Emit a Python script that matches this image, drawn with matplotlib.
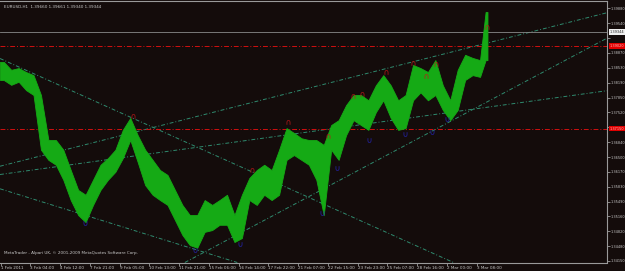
import matplotlib
matplotlib.use("Agg")
import matplotlib.pyplot as plt
import matplotlib.transforms as mtransforms

# ---------------- data ----------------
# price columns: each column = 8 hourly bars (bar index of first bar), high / low
col_start = list(range(0, 520, 8)) + [520]
col_width = [8] * 65 + [4]
col_high = [1.3866, 1.3848, 1.3852, 1.3843, 1.3836, 1.3791, 1.3689, 1.3689, 1.3667, 1.3621,
            1.3576, 1.3565, 1.3599, 1.3633, 1.3648, 1.3667, 1.3712, 1.3739, 1.3700, 1.3667,
            1.3644, 1.3621, 1.3610, 1.3576, 1.3542, 1.3519, 1.3519, 1.3553, 1.3542, 1.3553,
            1.3565, 1.3519, 1.3565, 1.3603, 1.3621, 1.3633, 1.3621, 1.3667, 1.3716, 1.3705,
            1.3693, 1.3689, 1.3689, 1.3678, 1.3723, 1.3734, 1.3768, 1.3791, 1.3791, 1.3779,
            1.3813, 1.3836, 1.3813, 1.3779, 1.3791, 1.3859, 1.3852, 1.3843, 1.3870, 1.3813,
            1.3779, 1.3848, 1.3882, 1.3875, 1.3870, 1.3979]
col_low = [1.3825, 1.3814, 1.3821, 1.3802, 1.3791, 1.3667, 1.3644, 1.3633, 1.3599, 1.3553,
           1.3519, 1.3503, 1.3542, 1.3576, 1.3599, 1.3617, 1.3648, 1.3689, 1.3639, 1.3587,
           1.3565, 1.3553, 1.3542, 1.3508, 1.3474, 1.3451, 1.3445, 1.3481, 1.3485, 1.3497,
           1.3497, 1.3458, 1.3467, 1.3553, 1.3542, 1.3565, 1.3553, 1.3565, 1.3644, 1.3655,
           1.3644, 1.3633, 1.3599, 1.3519, 1.3667, 1.3644, 1.3700, 1.3734, 1.3723, 1.3712,
           1.3752, 1.3779, 1.3739, 1.3712, 1.3716, 1.3779, 1.3797, 1.3779, 1.3791, 1.3757,
           1.3734, 1.3757, 1.3825, 1.3836, 1.3832, 1.3870]

# fractals (bar index, price)
up_fractal_bar = [142.5, 270.1, 309.5, 352.5, 379.4, 388.4, 414.5, 443.9, 457.5, 468.3, 523.1]
up_fractal_price = [1.3743, 1.3620, 1.3730, 1.3697, 1.3788, 1.3793, 1.3842, 1.3864, 1.3833, 1.3861, 1.3945]
dn_fractal_bar = [90.9, 209.1, 257.5, 345.7, 361.7, 396.3, 434.9, 463.4, 480.1]
dn_fractal_price = [1.3502, 1.3439, 1.3454, 1.3523, 1.3626, 1.3690, 1.3703, 1.3708, 1.3737]

# trend lines: (bar1, price1, bar2, price2)
trend_lines = [
    (268.3, 1.37729, 451.1, 1.38703),
    (268.3, 1.36891, 652.2, 1.38008),
    (365.1, 1.35985, 650.0, 1.39175),
    (139.2, 1.37412, 440.3, 1.34558),
    (131.7, 1.34920, 211.3, 1.34399),
]

red_levels = [1.39020, 1.37150]
red_level_labels = ["1.39020", "1.37150"]
bid_price = 1.39344
bid_label = "1.39344"

y_ticks = [1.34150, 1.34480, 1.34820, 1.35160, 1.35490, 1.35830, 1.36170, 1.36500, 1.36840,
           1.37180, 1.37520, 1.37850, 1.38190, 1.38530, 1.38870, 1.39210, 1.39540, 1.39880]
y_hidden = [1.37180, 1.39210]  # covered by the red / white price boxes
x_tick_bars = [0, 32, 64, 96, 128, 160, 192, 224, 256, 288, 320, 352, 384, 416, 448, 480, 512]
x_tick_labels = ["1 Feb 2011", "3 Feb 04:00", "4 Feb 12:00", "7 Feb 21:00", "9 Feb 05:00",
                 "10 Feb 13:00", "11 Feb 21:00", "15 Feb 06:00", "16 Feb 14:00", "17 Feb 22:00",
                 "21 Feb 07:00", "22 Feb 15:00", "23 Feb 23:00", "25 Feb 07:00", "28 Feb 16:00",
                 "2 Mar 00:00", "3 Mar 08:00"]

title_text = "EURUSD,H1  1.39660 1.39661 1.39340 1.39344"
footer_text = "MetaTrader - Alpari UK, \u00a9 2001-2009 MetaQuotes Software Corp."

# ---------------- style ----------------
BG = "#140c0b"
AX_GRAY = "#9a9a9a"
TXT = "#c8c8c8"
BAR_GREEN = "#15aa15"
LINE_TEAL = "#2f8a6e"
FS = 3.0
FS_Y = 2.5

W, H = 625, 271
fig = plt.figure(figsize=(W / 100, H / 100), dpi=100, facecolor=BG)
ax = fig.add_axes([0.0, (271 - 262.5) / 271, 607 / 625, (262.5 - 1) / 271])
ax.set_facecolor(BG)

ax.set_xlim(-0.54, 652)
ax.set_ylim(1.34116, 1.40039)

# price band (hourly bars aggregated per column)
xc = [s + w / 2 - 0.5 for s, w in zip(col_start, col_width)]
x_band = [col_start[0] - 0.5] + xc + [col_start[-1] + col_width[-1] - 0.5]
lo_band = [col_low[0]] + col_low + [col_low[-1]]
hi_band = [col_high[0]] + col_high + [col_high[-1]]
ax.fill_between(x_band, lo_band, hi_band, color=BAR_GREEN, linewidth=0.6, edgecolor=BAR_GREEN, zorder=3)

# trend lines
for (b1, p1, b2, p2) in trend_lines:
    ax.axline((b1, p1), (b2, p2), color=LINE_TEAL, lw=0.7, ls=(0, (4, 2, 1, 2)), zorder=2)

# horizontal lines
for lv in red_levels:
    ax.axhline(lv, color="#d01010", lw=0.7, ls=(0, (5, 2, 1, 2)), zorder=2)
ax.axhline(bid_price, color="#8a8a8a", lw=0.6, zorder=2)

# fractals
ax.scatter(up_fractal_bar, up_fractal_price, marker=r"$\cap$", s=11, color="#c01818", linewidths=0, zorder=4)
ax.scatter(dn_fractal_bar, dn_fractal_price, marker=r"$\cup$", s=11, color="#2424b4", linewidths=0, zorder=4)

# axes / spines
ax.spines["left"].set_visible(False)
for side in ["right", "bottom", "top"]:
    ax.spines[side].set_color(AX_GRAY)
    ax.spines[side].set_linewidth(0.8)

ax.yaxis.tick_right()
ax.set_yticks(y_ticks)
ax.set_yticklabels(["" if v in y_hidden else f"{v:.5f}" for v in y_ticks])
ax.tick_params(axis="y", colors=AX_GRAY, labelcolor=TXT, labelsize=FS_Y, length=2, width=0.6, pad=0.8)

ax.set_xticks(x_tick_bars)
ax.set_xticklabels(x_tick_labels)
ax.tick_params(axis="x", colors=AX_GRAY, labelcolor=TXT, labelsize=FS, length=2, width=0.6, pad=0.5)
for lbl in ax.get_xticklabels():
    lbl.set_horizontalalignment("left")

# right-side price labels
tr = mtransforms.blended_transform_factory(ax.transAxes, ax.transData)
ax.text(1.004, bid_price, bid_label, transform=tr, fontsize=FS_Y, color="#202020", va="center", ha="left",
        bbox=dict(boxstyle="square,pad=0.25", fc="#f0f0f0", ec="none"), clip_on=False, zorder=6)
for lv, lab in zip(red_levels, red_level_labels):
    ax.text(1.004, lv, lab, transform=tr, fontsize=FS_Y, color="#ffc0c0", va="center", ha="left",
            bbox=dict(boxstyle="square,pad=0.25", fc="#e00000", ec="none"), clip_on=False, zorder=6)

ax.text(0.006, 0.985, title_text, transform=ax.transAxes, fontsize=FS, color=TXT, va="top", ha="left")
ax.text(0.006, 0.035, footer_text, transform=ax.transAxes, fontsize=FS, color=TXT, va="center", ha="left")

fig.savefig("out.png", dpi=100, facecolor=BG)
